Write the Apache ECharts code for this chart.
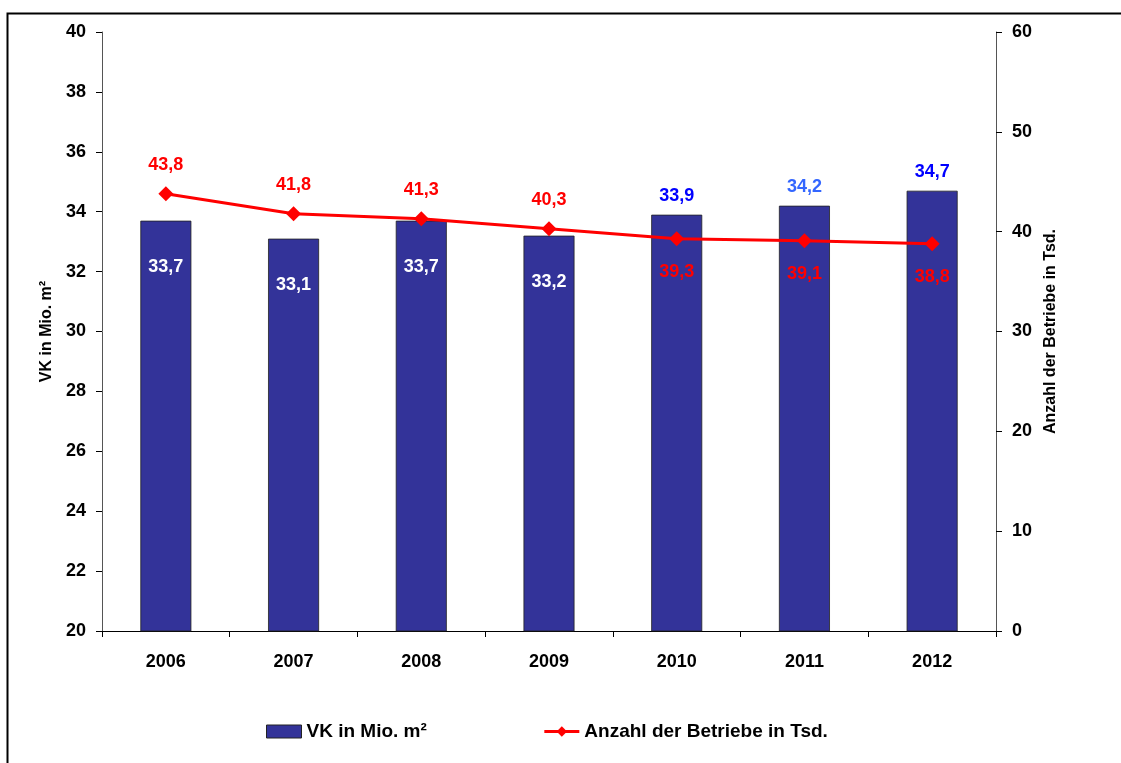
<!DOCTYPE html>
<html><head><meta charset="utf-8">
<script src="https://cdn.jsdelivr.net/npm/echarts@6/dist/echarts.min.js"></script>
<style>html,body{margin:0;padding:0;background:#fff}#c{width:1121px;height:763px}</style>
</head><body><div id="c"></div>
<script>
const years = ['2006','2007','2008','2009','2010','2011','2012'];
const vk = [33.7, 33.1, 33.7, 33.2, 33.9, 34.2, 34.7];
const betriebe = [43.8, 41.8, 41.3, 40.3, 39.3, 39.1, 38.8];
const leftTicks = [20, 22, 24, 26, 28, 30, 32, 34, 36, 38, 40];
const rightTicks = [0, 10, 20, 30, 40, 50, 60];

const F = 'Liberation Sans, Arial, sans-serif';
const fmt = v => v.toFixed(1).replace('.', ',');
const vkLabelColors = ['#ffffff','#ffffff','#ffffff','#ffffff','#0000ff','#3366ff','#0000ff'];

const barData = vk.map((v, i) => ({
  value: v,
  label: i < 4
    ? {position: 'insideTop', distance: 37, color: vkLabelColors[i]}
    : {position: 'top', distance: 10, color: vkLabelColors[i]}
}));
const lineData = betriebe.map((v, i) => ({
  value: v,
  label: i < 4 ? {position: 'top', distance: 12} : {position: 'bottom', distance: 17}
}));

const chart = echarts.init(document.getElementById('c'));
chart.setOption({
  animation: false,
  graphic: [{type: 'rect', shape: {x: 7.5, y: 13.5, width: 1200, height: 800}, style: {fill: 'none', stroke: '#000', lineWidth: 2}, silent: true}],
  grid: {left: 102, right: 125, top: 32, bottom: 132},
  legend: {
    top: 717, left: 261, itemGap: 116, itemWidth: 35, itemHeight: 13,
    textStyle: {fontFamily: F, fontWeight: 'bold', fontSize: 19, color: '#000'},
    data: [
      {name: 'VK in Mio. m²', icon: 'rect', itemStyle: {color: '#333399', borderColor: '#222', borderWidth: 1}},
      {name: 'Anzahl der Betriebe in Tsd.', lineStyle: {width: 3, color: '#ff0000'}}
    ]
  },
  xAxis: {
    type: 'category', data: years,
    axisLine: {lineStyle: {color: '#000', width: 1}},
    axisTick: {show: true, length: 6, lineStyle: {color: '#000'}},
    axisLabel: {fontFamily: F, fontWeight: 'bold', fontSize: 18, color: '#000', margin: 22}
  },
  yAxis: [{
    type: 'value', min: leftTicks[0], max: leftTicks[leftTicks.length - 1], interval: 2,
    name: 'VK in Mio. m²', nameLocation: 'middle', nameGap: 47, nameRotate: 90,
    nameTextStyle: {fontFamily: F, fontWeight: 'bold', fontSize: 16, color: '#000'},
    axisLine: {show: true, lineStyle: {color: '#555'}},
    axisTick: {show: true, length: 6, lineStyle: {color: '#000'}},
    splitLine: {show: false},
    axisLabel: {fontFamily: F, fontWeight: 'bold', fontSize: 18, color: '#000', margin: 16}
  }, {
    type: 'value', min: rightTicks[0], max: rightTicks[rightTicks.length - 1], interval: 10,
    name: 'Anzahl der Betriebe in Tsd.', nameLocation: 'middle', nameGap: 45, nameRotate: 90,
    nameTextStyle: {fontFamily: F, fontWeight: 'bold', fontSize: 16, color: '#000'},
    axisLine: {show: true, lineStyle: {color: '#555'}},
    axisTick: {show: true, length: 6, lineStyle: {color: '#000'}},
    splitLine: {show: false},
    axisLabel: {fontFamily: F, fontWeight: 'bold', fontSize: 18, color: '#000', margin: 16}
  }],
  series: [{
    name: 'VK in Mio. m²', type: 'bar', yAxisIndex: 0, data: barData, barWidth: 51,
    itemStyle: {color: '#333399', borderColor: '#222', borderWidth: 0.8},
    label: {show: true, fontFamily: F, fontWeight: 'bold', fontSize: 18, formatter: p => fmt(p.value)}
  }, {
    name: 'Anzahl der Betriebe in Tsd.', type: 'line', yAxisIndex: 1, data: lineData,
    symbol: 'diamond', symbolSize: 15,
    lineStyle: {color: '#ff0000', width: 3}, itemStyle: {color: '#ff0000'},
    label: {show: true, fontFamily: F, fontWeight: 'bold', fontSize: 18, color: '#ff0000', formatter: p => fmt(p.value)}
  }]
});
</script></body></html>
